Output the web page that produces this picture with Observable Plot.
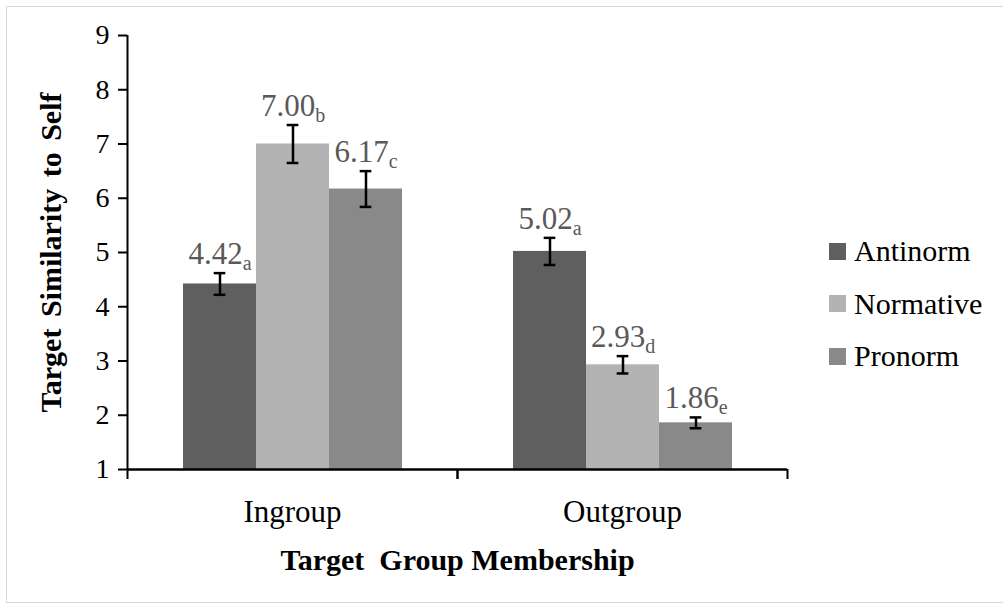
<!DOCTYPE html>
<html>
<head>
<meta charset="utf-8">
<script src="https://cdn.jsdelivr.net/npm/d3@7"></script>
<script src="https://cdn.jsdelivr.net/npm/@observablehq/plot@0.6"></script>
<style>
  html, body { margin: 0; padding: 0; background: #fff; overflow: hidden; }
  #wrap { position: relative; width: 1003px; height: 605px; overflow: hidden; }
  #border { position: absolute; left: 6px; top: 6px; width: 1010px; height: 597px;
            border: 1.5px solid #d9d9d9; box-sizing: border-box; }
  #chart { position: absolute; left: 0; top: 0; }
  #chart svg, #chart svg text { font-family: "Liberation Serif", "Times New Roman", serif; white-space: pre; }
  #legend { position: absolute; left: 829px; top: 225px; }
  #legend, #legend * { font-family: "Liberation Serif", "Times New Roman", serif !important; font-size: 30px !important; color: #000 !important; }
  #legend .lg-swatch { height: 52.5px; margin: 0 !important; padding: 0 !important; }
  #legend .lg-swatch svg { margin-right: 8px !important; }
</style>
</head>
<body>
<div id="wrap">
  <div id="border"></div>
  <div id="chart"></div>
  <div id="legend"></div>
</div>
<script>
// Target similarity to self, by group membership and target type
const groups = ["Ingroup", "Outgroup"];
const conditions = ["Antinorm", "Normative", "Pronorm"];
const ingroupMeans = [4.42, 7.00, 6.17];
const outgroupMeans = [5.02, 2.93, 1.86];
const ingroupErrors = [0.20, 0.35, 0.33];
const outgroupErrors = [0.25, 0.16, 0.10];
const ingroupLetters = ["a", "b", "c"];
const outgroupLetters = ["a", "d", "e"];
const yDomain = [1, 9];
const yTicks = [1, 2, 3, 4, 5, 6, 7, 8, 9];
const colors = ["#5f5f5f", "#b3b3b3", "#898989"];

const means = [ingroupMeans, outgroupMeans];
const errors = [ingroupErrors, outgroupErrors];
const letters = [ingroupLetters, outgroupLetters];

const rows = groups.flatMap((group, g) =>
  conditions.map((condition, c) => ({
    group,
    condition,
    mean: means[g][c],
    err: errors[g][c],
    letter: letters[g][c]
  }))
);
const labelOf = d => d.mean.toFixed(2);

// layout
const width = 1003, height = 605;
const marginLeft = 127, marginRight = 216, marginTop = 35, marginBottom = 136;
const facetWidth = (width - marginLeft - marginRight) / groups.length;
const paddingOuter = 0.75;
const bandwidth = facetWidth / (conditions.length + 2 * paddingOuter);
const capWidth = 12;
const capInset = (bandwidth - capWidth) / 2;
const serif = '"Liberation Serif", "Times New Roman", serif';

const chart = Plot.plot({
  width, height, marginLeft, marginRight, marginTop, marginBottom,
  style: { fontFamily: serif, fontSize: "28px", color: "#000", background: "transparent", overflow: "visible" },
  fx: { domain: groups, padding: 0 },
  x: { domain: conditions, paddingInner: 0, paddingOuter, axis: null },
  y: { domain: yDomain },
  color: { domain: conditions, range: colors },
  marks: [
    Plot.barY(rows, { fx: "group", x: "condition", y1: yDomain[0], y2: "mean", fill: "condition" }),
    // error bars
    Plot.ruleX(rows, { fx: "group", x: "condition", y1: d => d.mean - d.err, y2: d => d.mean + d.err,
      stroke: "#000", strokeWidth: 2.5 }),
    Plot.tickY(rows, { fx: "group", x: "condition", y: d => d.mean - d.err,
      insetLeft: capInset, insetRight: capInset, stroke: "#000", strokeWidth: 2.5 }),
    Plot.tickY(rows, { fx: "group", x: "condition", y: d => d.mean + d.err,
      insetLeft: capInset, insetRight: capInset, stroke: "#000", strokeWidth: 2.5 }),
    // value labels (subscript letters added below)
    Plot.text(rows, { fx: "group", x: "condition", y: d => d.mean + d.err, text: labelOf,
      lineAnchor: "bottom", dy: -9, fill: "#595959", fontSize: 31, fontFamily: serif }),
    // axes
    Plot.ruleY([yDomain[0]], { stroke: "#000", strokeWidth: 2.5 }),
    Plot.ruleX([yDomain], { x: null, y1: d => d[0], y2: d => d[1], dx: -facetWidth / 2,
      facetAnchor: "left", stroke: "#000", strokeWidth: 2 }),
    Plot.axisY({ ticks: yTicks, tickFormat: d3.format("d"), tickSize: 9, tickPadding: 9, strokeWidth: 2,
      fontSize: 28, fontFamily: serif, fontVariant: "normal",
      label: "Target Similarity to Self", labelAnchor: "center", labelOffset: 88, labelArrow: "none" }),
    Plot.axisFx({ anchor: "bottom", tickSize: 0, tickPadding: 30, fontSize: 31, fontFamily: serif,
      label: "Target  Group Membership", labelAnchor: "center", labelOffset: 100, labelArrow: "none" }),
    Plot.axisFx({ anchor: "bottom", tickSize: 10, tickFormat: () => "", label: null, dx: -facetWidth / 2, strokeWidth: 2 }),
    Plot.axisFx({ anchor: "bottom", tickSize: 10, tickFormat: () => "", label: null, dx: facetWidth / 2, strokeWidth: 2 })
  ]
});

// subscript significance letters after each value label
const letterByLabel = new Map(rows.map(d => [labelOf(d), d.letter]));
d3.select(chart).selectAll("text").each(function () {
  const t = this.textContent.trim();
  if (letterByLabel.has(t) && this.closest('g[aria-label*="axis"]') === null && !this.querySelector("tspan.sub")) {
    d3.select(this).append("tspan")
      .attr("class", "sub")
      .attr("font-size", 20)
      .attr("dy", 6)
      .text(letterByLabel.get(t));
  }
});

// bold axis titles
d3.select(chart).selectAll('g[aria-label="y-axis label"], g[aria-label="fx-axis label"]')
  .attr("font-weight", "bold")
  .attr("font-size", 30);
d3.select(chart).selectAll('g[aria-label="y-axis label"] text, g[aria-label="fx-axis label"] text')
  .attr("font-weight", "bold")
  .attr("font-size", 30);
d3.select(chart).selectAll('g[aria-label="y-axis label"] text')
  .style("word-spacing", "4px");

document.getElementById("chart").appendChild(chart);

const legend = Plot.legend({
  color: { domain: conditions, range: colors },
  columns: 1,
  swatchSize: 17,
  className: "lg",
  style: { fontFamily: serif, fontSize: "30px", color: "#000" }
});
document.getElementById("legend").appendChild(legend);
</script>
</body>
</html>
